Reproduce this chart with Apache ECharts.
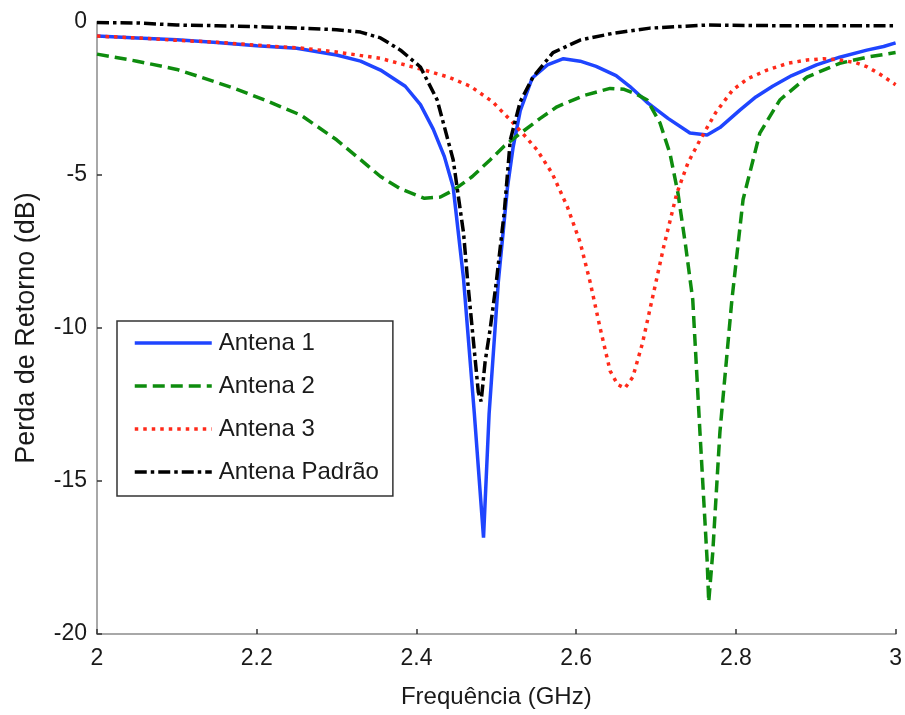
<!DOCTYPE html>
<html>
<head>
<meta charset="utf-8">
<script src="https://cdn.jsdelivr.net/npm/echarts@6/dist/echarts.min.js"></script>
<style>
html,body{margin:0;padding:0;background:#fff;}
#chart{width:905px;height:715px;}
</style>
</head>
<body>
<div id="chart"></div>
<script>
const seriesNames = ['Antena 1', 'Antena 2', 'Antena 3', 'Antena Padrão'];
const xTicks = [2, 2.2, 2.4, 2.6, 2.8, 3];
const yTicks = [0, -5, -10, -15, -20];

const antena1 = [
  [2.00,-0.46],[2.05,-0.52],[2.10,-0.58],[2.15,-0.67],[2.20,-0.78],[2.25,-0.86],
  [2.30,-1.08],[2.33,-1.28],[2.355,-1.57],[2.386,-2.1],[2.405,-2.7],[2.421,-3.5],
  [2.435,-4.4],[2.446,-5.4],[2.459,-8.4],[2.4725,-12.8],[2.484,-16.85],[2.491,-12.8],
  [2.5025,-8.5],[2.514,-5.4],[2.521,-4.1],[2.53,-2.9],[2.545,-1.83],[2.564,-1.4],
  [2.584,-1.2],[2.605,-1.28],[2.625,-1.45],[2.65,-1.75],[2.667,-2.1],[2.69,-2.65],
  [2.715,-3.15],[2.7425,-3.63],[2.764,-3.69],[2.78,-3.45],[2.805,-2.88],[2.825,-2.45],
  [2.846,-2.1],[2.87,-1.75],[2.901,-1.4],[2.93,-1.15],[2.964,-0.92],[2.985,-0.8],[3.0,-0.68]
];
const antena2 = [
  [2.00,-1.05],[2.05,-1.28],[2.10,-1.55],[2.13,-1.8],[2.17,-2.15],[2.21,-2.55],
  [2.255,-3.04],[2.30,-3.85],[2.33,-4.5],[2.355,-5.05],[2.38,-5.45],[2.41,-5.76],
  [2.43,-5.72],[2.446,-5.5],[2.47,-5.05],[2.4925,-4.5],[2.51,-4.05],[2.53,-3.64],
  [2.555,-3.15],[2.576,-2.77],[2.61,-2.4],[2.6425,-2.17],[2.66,-2.2],[2.675,-2.35],
  [2.689,-2.55],[2.705,-3.3],[2.7175,-4.3],[2.7275,-5.6],[2.737,-7.3],[2.746,-9.08],
  [2.755,-13.4],[2.764,-17.6],[2.766,-18.95],[2.771,-17.35],[2.78,-13.4],[2.795,-9.08],
  [2.809,-5.8],[2.83,-3.63],[2.855,-2.55],[2.889,-1.8],[2.93,-1.35],[2.964,-1.15],[3.0,-1.0]
];
const antena3 = [
  [2.00,-0.46],[2.05,-0.52],[2.10,-0.6],[2.15,-0.66],[2.20,-0.76],[2.255,-0.85],
  [2.30,-0.98],[2.355,-1.19],[2.41,-1.57],[2.44,-1.8],[2.4675,-2.1],[2.495,-2.6],
  [2.5175,-3.2],[2.535,-3.7],[2.551,-4.18],[2.57,-4.95],[2.589,-6.04],[2.605,-7.2],
  [2.6175,-8.5],[2.63,-10.0],[2.6425,-11.4],[2.652,-11.85],[2.661,-11.97],[2.671,-11.6],
  [2.683,-10.5],[2.695,-9.08],[2.71,-7.3],[2.726,-5.6],[2.74,-4.6],[2.755,-3.86],
  [2.775,-2.95],[2.796,-2.22],[2.815,-1.85],[2.839,-1.57],[2.865,-1.35],[2.889,-1.24],
  [2.91,-1.2],[2.93,-1.24],[2.95,-1.33],[2.964,-1.46],[2.98,-1.7],[3.0,-2.05]
];
const antenaPadrao = [
  [2.00,-0.02],[2.05,-0.03],[2.10,-0.1],[2.15,-0.12],[2.21,-0.16],[2.255,-0.2],
  [2.30,-0.25],[2.33,-0.33],[2.355,-0.52],[2.38,-0.92],[2.405,-1.47],[2.426,-2.55],
  [2.446,-4.5],[2.459,-6.9],[2.464,-8.43],[2.4775,-12.1],[2.481,-12.4],[2.486,-11.1],
  [2.4925,-10.0],[2.5,-8.5],[2.51,-6.2],[2.5175,-3.86],[2.53,-2.6],[2.546,-1.8],
  [2.571,-1.0],[2.605,-0.59],[2.646,-0.37],[2.6925,-0.2],[2.764,-0.1],[2.85,-0.12],
  [2.95,-0.12],[3.0,-0.12]
];

const FONT = '"Liberation Sans", Arial, Helvetica, sans-serif';
const chart = echarts.init(document.getElementById('chart'), null, {renderer: 'canvas'});

function mk(name, data, color, type) {
  return {
    name: name, type: 'line', data: data, symbol: 'none', showSymbol: false, smooth: false,
    lineStyle: {color: color, width: 3.5, type: type, cap: 'butt'},
    itemStyle: {color: color},
    animation: false
  };
}

chart.setOption({
  backgroundColor: '#ffffff',
  animation: false,
  grid: {left: 97, right: 9, top: 22, bottom: 81, containLabel: false},
  xAxis: {
    type: 'value', min: 2, max: 3, interval: 0.2,
    name: 'Frequência (GHz)', nameLocation: 'middle', nameGap: 51,
    nameTextStyle: {fontFamily: FONT, fontSize: 24, color: '#1a1a1a'},
    axisLine: {show: true, onZero: false, lineStyle: {color: '#a8a8a8', width: 2}},
    axisTick: {show: true, inside: true, length: 5, lineStyle: {color: '#333', width: 1.5}},
    axisLabel: {fontFamily: FONT, fontSize: 23, color: '#1a1a1a', margin: 13,
      formatter: function (v) { return xTicks.indexOf(+v.toFixed(1)) >= 0 ? String(+v.toFixed(1)) : ''; }},
    splitLine: {show: false}
  },
  yAxis: {
    type: 'value', min: -20, max: 0, interval: 5,
    name: 'Perda de Retorno (dB)', nameLocation: 'middle', nameGap: 57, nameRotate: 90,
    nameTextStyle: {fontFamily: FONT, fontSize: 27, color: '#1a1a1a'},
    axisLine: {show: true, onZero: false, lineStyle: {color: '#a8a8a8', width: 2}},
    axisTick: {show: true, inside: true, length: 5, lineStyle: {color: '#333', width: 1.5}},
    axisLabel: {fontFamily: FONT, fontSize: 23, color: '#1a1a1a', margin: 10,
      formatter: function (v) { return yTicks.indexOf(v) >= 0 ? String(v) : ''; }},
    splitLine: {show: false}
  },
  legend: {
    show: true, orient: 'vertical', left: 117, top: 321,
    data: seriesNames,
    backgroundColor: '#ffffff', borderColor: '#333', borderWidth: 1.5, borderRadius: 0,
    padding: [10, 14, 12, 16],
    itemWidth: 77, itemHeight: 14, itemGap: 19,
    itemStyle: {opacity: 0},
    lineStyle: {width: 3.5},
    textStyle: {fontFamily: FONT, fontSize: 24, color: '#1a1a1a', lineHeight: 24, padding: [0, 0, 0, 2]}
  },
  series: [
    mk(seriesNames[0], antena1, '#1f45ff', 'solid'),
    mk(seriesNames[1], antena2, '#0e8c0e', [12, 6]),
    mk(seriesNames[2], antena3, '#ff2a1a', [3.5, 5]),
    mk(seriesNames[3], antenaPadrao, '#000000', [12, 4, 3.5, 4])
  ]
});
</script>
</body>
</html>
